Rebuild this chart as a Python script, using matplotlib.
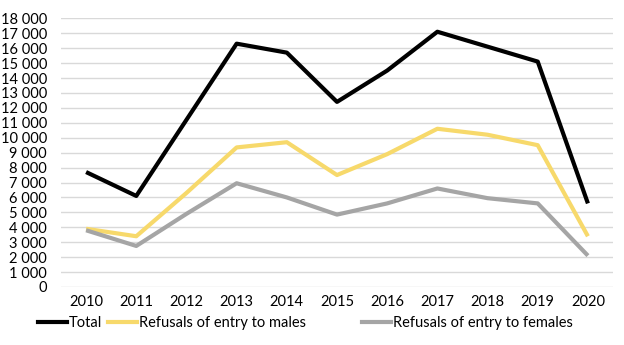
import matplotlib
matplotlib.use("Agg")
import matplotlib.pyplot as plt
from matplotlib.lines import Line2D
from matplotlib.ticker import FuncFormatter

years = ["2010", "2011", "2012", "2013", "2014", "2015", "2016", "2017", "2018", "2019", "2020"]
total = [7700, 6100, 11200, 16300, 15700, 12400, 14500, 17100, 16100, 15100, 5600]
males = [3900, 3400, 6300, 9350, 9700, 7500, 8900, 10600, 10200, 9500, 3400]
females = [3800, 2750, 4900, 6950, 6000, 4850, 5600, 6600, 5950, 5600, 2100]
labels = ["Total", "Refusals of entry to males", "Refusals of entry to females"]
colors = ["#000000", "#F7D96B", "#A5A5A5"]

plt.rcParams['font.family'] = ['Lato', 'DejaVu Sans']

fig = plt.figure(figsize=(6.24, 3.45), dpi=100)
ax = fig.add_axes([61/624, 1-287/345, (613-61)/624, (287-18.3)/345])

x = list(range(len(years)))
lw = 3.0
for series, c in zip([total, males, females], colors):
    ax.plot(x, series, color=c, lw=lw, solid_joinstyle='round', solid_capstyle='butt', zorder=3)

ax.set_xlim(-0.5, len(years) - 0.5)
ax.set_ylim(0, 18000)
ax.set_yticks(range(0, 18001, 1000))
ax.yaxis.set_major_formatter(FuncFormatter(lambda v, p: f"{int(v):,}".replace(",", " ")))
ax.set_xticks(x)
ax.set_xticklabels(years)
ax.grid(axis='y', color='#D9D9D9', lw=1.0, zorder=0)
for s in ax.spines.values():
    s.set_visible(False)
ax.tick_params(axis='both', length=0, labelsize=10.5, colors='#000000')
ax.tick_params(axis='x', pad=6)
ax.tick_params(axis='y', pad=10)

anchors = [38/624, 108/624, 362/624]
for lab, c, ax0 in zip(labels, colors, anchors):
    h = Line2D([0], [0], color=c, lw=lw)
    fig.legend([h], [lab], loc='center left', bbox_to_anchor=(ax0, 1-323/345),
               frameon=False, borderpad=0, borderaxespad=0, handlelength=2.0,
               handletextpad=0.1, fontsize=10.5)

fig.savefig("out.png", dpi=100)
